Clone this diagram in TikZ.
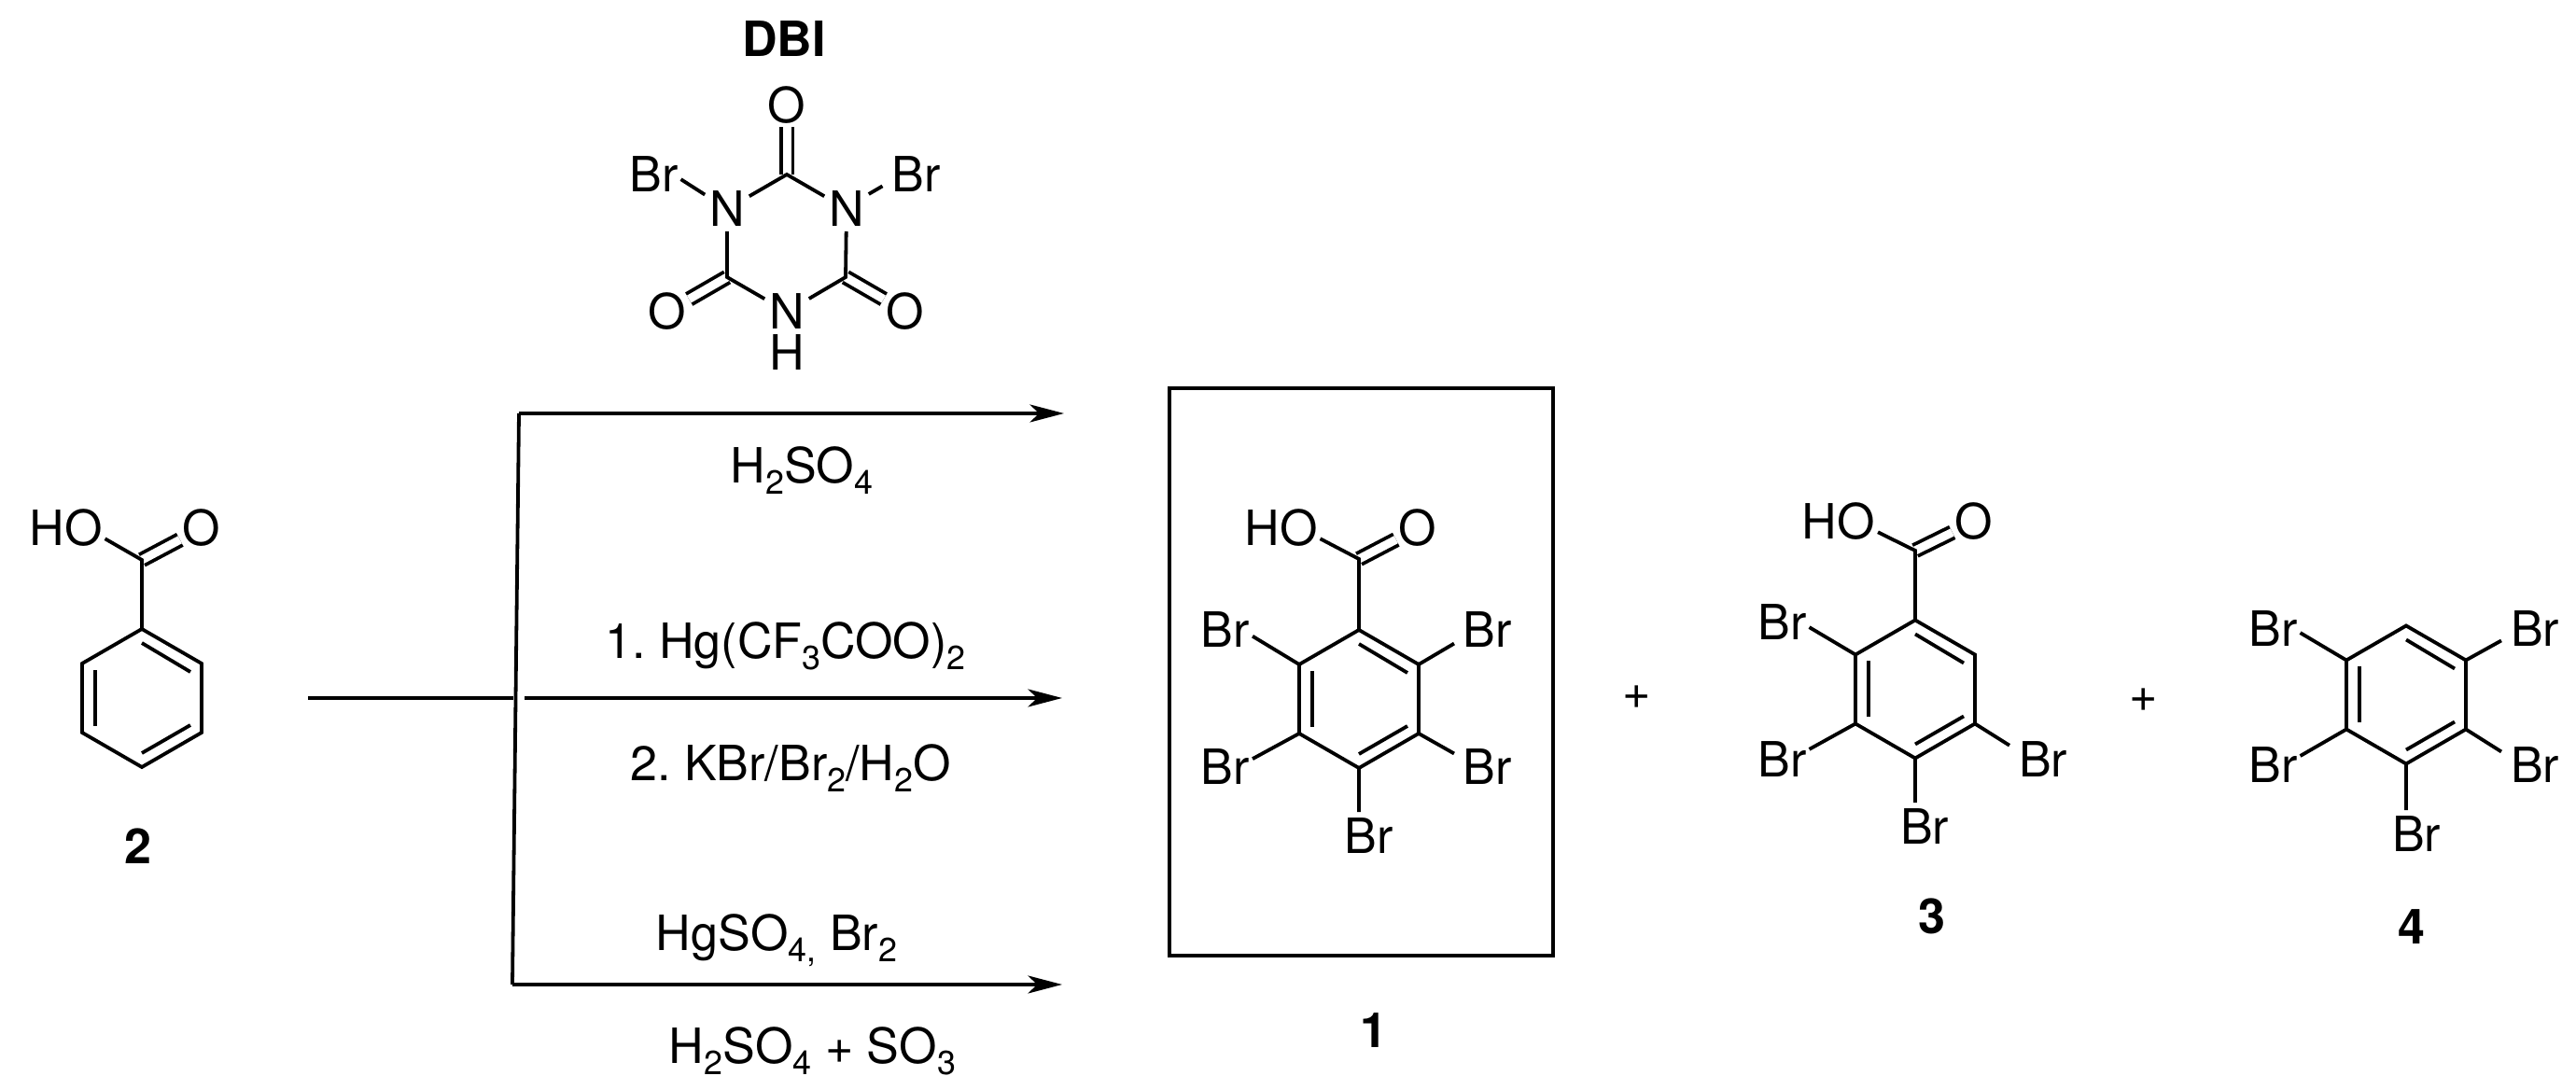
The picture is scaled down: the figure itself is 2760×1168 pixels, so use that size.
\documentclass[tikz,border=0pt]{standalone}
\usepackage{fontspec}
\setmainfont{TeX Gyre Heros}
\usetikzlibrary{arrows.meta}
\newcommand{\subs}[1]{\raisebox{-.22em}{\fontsize{10.2}{12}\selectfont #1}}
\frenchspacing
\tikzset{
  bond/.style={line width=.38mm},
  dbond/.style={double, double distance=.09cm, line width=.38mm},
  rxn/.style={line width=.38mm, -{Stealth[length=10.4pt, width=5.4pt, inset=2.8pt]}},
  txt/.style={font=\fontsize{14.8}{18}\selectfont, inner sep=0pt},
  atom/.style={txt, anchor=base, outer sep=.3mm},
  atomR/.style={atom, outer sep=1mm},
  atomB/.style={atom, outer sep=.7mm},
  atomN/.style={atom, outer sep=.5mm},
  reagent/.style={txt, anchor=base},
  plus/.style={txt},
  tag/.style={txt, anchor=base, font=\fontsize{14.8}{18}\selectfont\bfseries}
}
\begin{document}
\begin{tikzpicture}[x=0.01cm, y=-0.01cm]
  \useasboundingbox (0,0) rectangle (2760,1168);
  % benzene rings
  \foreach \m/\cx/\cy in {a/152/748, b/1456/749, c/2052/738.5, d/2578/744.5} {
    \coordinate (\m1) at (\cx,\cy-74);
    \coordinate (\m2) at (\cx+64,\cy-37);
    \coordinate (\m3) at (\cx+64,\cy+37);
    \coordinate (\m4) at (\cx,\cy+74);
    \coordinate (\m5) at (\cx-64,\cy+37);
    \coordinate (\m6) at (\cx-64,\cy-37);
    \draw [bond] (\m1) -- (\m2) -- (\m3) -- (\m4) -- (\m5) -- (\m6) -- cycle;
    \draw [bond] (\cx,\cy-59) -- (\cx+52,\cy-28);
    \draw [bond] (\cx-50,\cy-30) -- (\cx-50,\cy+30);
    \draw [bond] (\cx,\cy+59) -- (\cx+52,\cy+29);
  }
  % acid groups
  \foreach \m/\cx/\cy/\hx/\ox/\by in {a/152/600/70.5/216/585, b/1456/599/1372.5/1519/585, c/2052/590/1970/2115/578} {
    \coordinate (\m C) at (\cx,\cy);
    \node [atom] (\m ho) at (\hx,\by) {HO};
    \node [atom] (\m o) at (\ox,\by) {O};
    \draw [dbond] (\m C) -- (\m o);
    \draw [bond] (\m1) -- (\m C) -- (\m ho.-15);
  }
  % bromines
  \foreach \n/\x/\y in {brb6/1313/694, brb5/1313/841, brc6/1909.5/686, brc5/1909.5/833, brd6/2435.5/693, brd5/2435.5/839}
    \node [atom] (\n) at (\x,\y) {Br};
  \foreach \n/\x/\y in {brb2/1594/694, brb3/1594/841, brc3/2189/833, brd2/2716/693, brd3/2716/839}
    \node [atomR] (\n) at (\x,\y) {Br};
  \foreach \n/\x/\y in {brb4/1466.5/915, brc4/2062/905, brd4/2589/913}
    \node [atomB] (\n) at (\x,\y) {Br};
  \foreach \s/\n/\ang in {b6/brb6/-13, b5/brb5/17, b2/brb2/202, b3/brb3/158, b4/brb4/112,
      c6/brc6/-10, c5/brc5/21, c3/brc3/157, c4/brc4/111,
      d6/brd6/-8, d5/brd5/19, d2/brd2/199, d3/brd3/158, d4/brd4/113}
    \draw [bond] (\s) -- (\n.\ang);
  % reagent above the top arrow
  \node [tag] (dbi) at (840,61) {DBI};
  \node [atom] (ot) at (843,132) {O};
  \node [atom] (ol) at (715,353) {O};
  \node [atom] (or) at (970,353) {O};
  \node [atomN] (nl) at (779,243) {N};
  \node [atomN] (nr) at (907,243) {N};
  \node [atomN] (nb) at (843,353) {N};
  \node [atom] (hb) at (843,397) {H};
  \node [atom] (brl) at (700.5,206) {Br};
  \node [atomR] (brr) at (981.5,206) {Br};
  \coordinate (ct) at (843,187);
  \coordinate (cl) at (779,297);
  \coordinate (cr) at (906,297);
  \draw [dbond] (ct) -- (ot);
  \draw [dbond] (cl) -- (ol);
  \draw [dbond] (cr) -- (or);
  \draw [bond] (nl) -- (ct) -- (nr);
  \draw [bond] (nl) -- (cl) -- (nb) -- (cr) -- (nr);
  \draw [bond] (nl.147) -- (brl.-10);
  \draw [bond] (nr.34) -- (brr.199);
  % arrows
  \coordinate (start) at (330,748);
  \coordinate (forkT) at (556,443);
  \coordinate (forkM) at (550,748);
  \coordinate (forkN) at (562,748);
  \coordinate (forkB) at (549,1055);
  \coordinate (tipT) at (1140,443);
  \coordinate (tipM) at (1138,748);
  \coordinate (tipB) at (1138,1055);
  \draw [bond] (start) -- (forkM);
  \draw [bond] (forkT) -- (forkB);
  \draw [rxn] (forkT) -- (tipT);
  \draw [rxn] (forkN) -- (tipM);
  \draw [rxn] (forkB) -- (tipB);
  \node [reagent] (top) at (859,518) {H\subs{2}SO\subs{4}};
  \node [reagent] (midA) at (841.5,706) {1. Hg(CF\subs{3}COO)\subs{2}};
  \node [reagent] (midB) at (847,837) {2. KBr/Br\subs{2}/H\subs{2}O};
  \node [reagent] (lowA) at (832,1019) {HgSO\subs{4,} Br\subs{2}};
  \node [reagent] (lowB) at (870.5,1140) {H\subs{2}SO\subs{4} + SO\subs{3}};
  % box round product
  \draw [bond] (1253,416) rectangle (1664,1024);
  % plus signs and numbers
  \node [plus] (plusA) at (1754,747) {+};
  \node [plus] (plusB) at (2297,750) {+};
  \node [tag] (tagA) at (148,926) {2};
  \node [tag] (tagB) at (1472,1123) {1};
  \node [tag] (tagC) at (2070,1001) {3};
  \node [tag] (tagD) at (2584,1012) {4};
\end{tikzpicture}
\end{document}
